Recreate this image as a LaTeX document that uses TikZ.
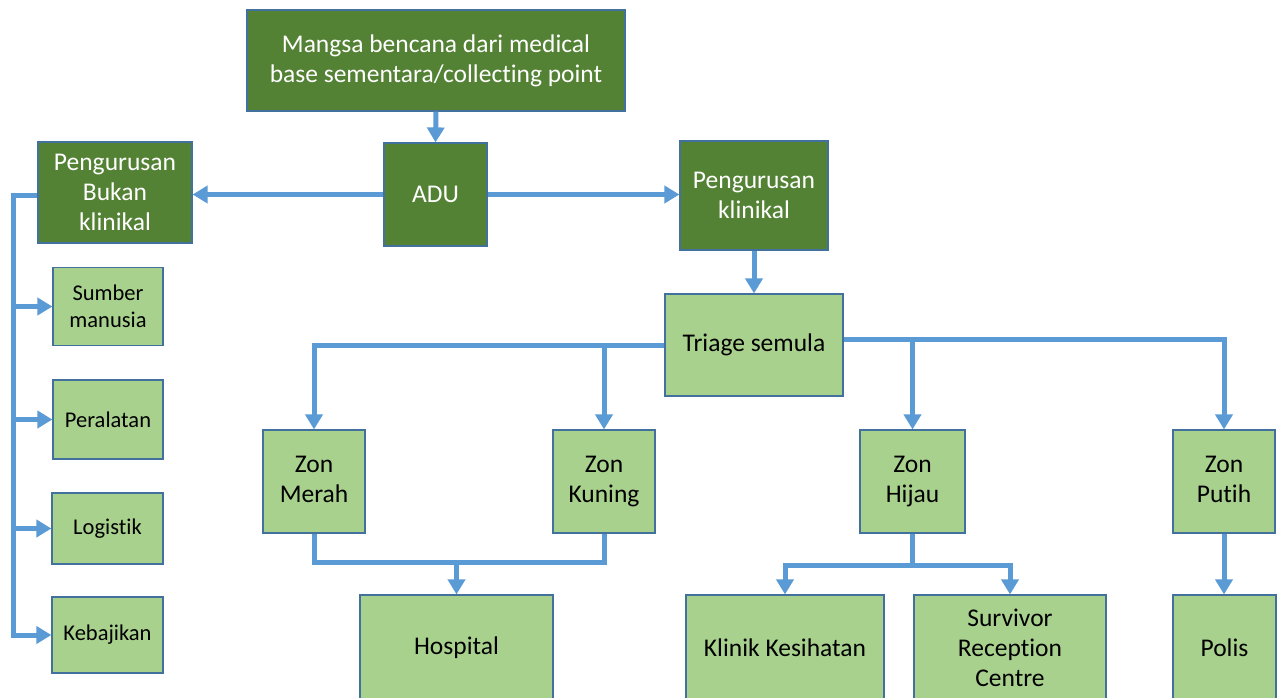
\documentclass[tikz,border=0pt]{standalone}
\usepackage{fontspec}
\setmainfont{Carlito}[Ligatures=NoCommon]
\usetikzlibrary{arrows.meta}
\definecolor{dkgreen}{HTML}{548235}
\definecolor{ltgreen}{HTML}{A9D18E}
\definecolor{bordblue}{HTML}{41719C}
\definecolor{arrblue}{HTML}{5B9BD5}
\tikzset{
  dkbox/.style={draw=bordblue, line width=1.2pt, fill=dkgreen, text=white, align=center, inner sep=0pt, font=\fontsize{25.5}{30}\selectfont},
  ltbox/.style={draw=bordblue, line width=1.2pt, fill=ltgreen, text=black, align=center, inner sep=0pt, font=\fontsize{25.5}{30}\selectfont},
  smbox/.style={ltbox, font=\fontsize{22.5}{27}\selectfont},
  conn/.style={draw=arrblue, line width=5pt},
  arr/.style={conn, -{Triangle[length=15pt,width=17pt]}},
}
\begin{document}
\begin{tikzpicture}[x=1pt,y=-1pt]
\clip (0,0) rectangle (1279,697);
\fill[white] (0,0) rectangle (1279,697);
% dark boxes
\node[dkbox, minimum width=378pt, minimum height=101pt] (top) at (436,60.5) {Mangsa bencana dari medical\\base sementara/collecting point};
\node[dkbox, minimum width=103pt, minimum height=103pt] (adu) at (435.5,194.5) {ADU};
\node[dkbox, minimum width=154pt, minimum height=101pt] (bukan) at (115,192.5) {Pengurusan\\Bukan\\klinikal};
\node[dkbox, minimum width=148pt, minimum height=109pt] (klin) at (754,195.5) {Pengurusan\\klinikal};
% triage and zones
\node[ltbox, minimum width=178pt, minimum height=102pt] (tri) at (754,345) {Triage semula};
\node[ltbox, minimum width=102pt, minimum height=103pt] (merah) at (314,481.5) {\strut Zon\\Merah\strut};
\node[ltbox, minimum width=102pt, minimum height=103pt] (kuning) at (604,481.5) {\strut Zon\\Kuning\strut};
\node[ltbox, minimum width=105pt, minimum height=103pt] (hijau) at (912.5,481.5) {\strut Zon\\Hijau\strut};
\node[ltbox, minimum width=102pt, minimum height=103pt] (putih) at (1224,481.5) {\strut Zon\\Putih\strut};
% bottom boxes
\node[ltbox, minimum width=193pt, minimum height=105pt] (hosp) at (456.5,647.5) {Hospital};
\node[ltbox, minimum width=198pt, minimum height=105pt] (klinik) at (785,647.5) {Klinik Kesihatan};
\node[ltbox, minimum width=192pt, minimum height=105pt] (surv) at (1010,647.5) {Survivor\\Reception\\Centre};
\node[ltbox, minimum width=103pt, minimum height=105pt] (polis) at (1224.5,647.5) {Polis};
% small left boxes
\node[smbox, minimum width=110pt, minimum height=78pt] (sumber) at (108,306.5) {Sumber\\manusia};
\node[smbox, minimum width=110pt, minimum height=79pt] (alat) at (108,419.5) {Peralatan};
\node[smbox, minimum width=111pt, minimum height=71pt] (logis) at (107.5,528.5) {Logistik};
\node[smbox, minimum width=111pt, minimum height=76pt] (keb) at (107.5,635) {Kebajikan};
% connectors
\draw[arr] (top.south) -- (adu.north);
\draw[arr] (adu.west) -- (adu.west -| bukan.east);
\draw[arr] (adu.east) -- (adu.east -| klin.west);
\draw[arr] (klin.south) -- (klin.south |- tri.north);
\coordinate (sp) at (13,195);
\draw[arr] (bukan.west |- sp) -- (sp) |- (keb.west);
\draw[arr] (sp |- sumber.west) -- (sumber.west);
\draw[arr] (sp |- alat.west) -- (alat.west);
\draw[arr] (sp |- logis.west) -- (logis.west);
\draw[arr] (tri.west) -| (merah.north);
\draw[arr] (tri.west -| kuning.north) -- (kuning.north);
\coordinate (tr) at ([yshift=6pt]tri.east);
\draw[arr] (tr) -| (putih.north);
\draw[arr] (tr -| hijau.north) -- (hijau.north);
\path (merah.south) ++(0,29) coordinate (mk);
\draw[conn, line join=miter] (merah.south) |- (mk -| kuning.south) -- (kuning.south);
\draw[arr] (mk -| hosp.north) -- (hosp.north);
\path (hijau.south) ++(0,32) coordinate (hj);
\draw[conn] (hijau.south) -- (hj);
\draw[arr] (hj) -| (klinik.north);
\draw[arr] (hj) -| (surv.north);
\draw[arr] (putih.south) -- (putih.south |- polis.north);
\end{tikzpicture}
\end{document}
